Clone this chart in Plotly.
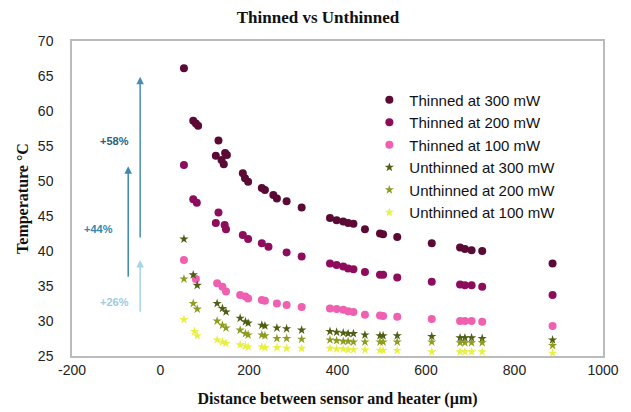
import plotly.graph_objects as go

# ---- data ----
t300_x = [53, 74, 80, 85, 125, 131, 138, 143, 146, 150, 186, 191, 198, 229, 236, 255, 263, 285, 319,
          383, 398, 413, 424, 436, 462, 496, 503, 535, 613, 677, 688, 703, 727, 886]
t300_y = [66.1, 58.6, 58.2, 57.9, 53.6, 55.8, 53.0, 52.4, 54.0, 53.7, 51.1, 50.4, 49.9, 49.0, 48.7, 48.0, 47.5, 47.1, 46.2,
          44.7, 44.4, 44.2, 44.0, 43.9, 43.1, 42.5, 42.4, 42.0, 41.1, 40.5, 40.3, 40.1, 40.0, 38.2]

t200_x = [53, 74, 82, 131, 125, 145, 148, 186, 198, 229, 244, 285, 319,
          383, 398, 413, 424, 436, 462, 496, 503, 535, 613, 677, 688, 703, 727, 886]
t200_y = [52.3, 47.4, 46.9, 45.5, 44.0, 43.7, 43.1, 42.3, 41.7, 41.1, 40.6, 39.8, 39.2,
          38.2, 38.0, 37.8, 37.5, 37.4, 37.0, 36.6, 36.6, 36.2, 35.6, 35.2, 35.1, 35.1, 34.9, 33.7]

t100_x = [53, 80, 128, 140, 148, 180, 192, 198, 229, 236, 263, 285, 319,
          383, 398, 413, 424, 436, 462, 496, 503, 535, 613, 677, 688, 703, 727, 886]
t100_y = [38.7, 36.0, 35.4, 34.9, 34.2, 33.7, 33.5, 33.2, 33.0, 32.9, 32.5, 32.3, 32.0,
          31.8, 31.7, 31.6, 31.4, 31.3, 30.9, 30.8, 30.7, 30.6, 30.3, 30.0, 30.0, 30.0, 29.9, 29.3]

u300_x = [53, 74, 83, 128, 140, 148, 180, 192, 198, 229, 236, 263, 285, 319,
          383, 398, 413, 424, 436, 462, 496, 503, 535, 613, 677, 688, 703, 727, 886]
u300_y = [41.7, 36.6, 35.1, 32.5, 31.8, 31.3, 30.4, 29.9, 29.7, 29.4, 29.3, 29.0, 28.9, 28.7,
          28.5, 28.4, 28.3, 28.2, 28.2, 28.0, 27.9, 27.9, 27.9, 27.8, 27.6, 27.6, 27.6, 27.5, 27.3]

u200_x = [53, 74, 83, 128, 140, 148, 180, 192, 198, 229, 236, 263, 285, 319,
          383, 398, 413, 424, 436, 462, 496, 503, 535, 613, 677, 688, 703, 727, 886]
u200_y = [36.0, 32.5, 31.7, 30.0, 29.4, 29.0, 28.7, 28.2, 28.0, 28.0, 27.9, 27.5, 27.5, 27.4,
          27.3, 27.2, 27.1, 27.1, 27.0, 27.0, 27.0, 27.0, 27.0, 27.0, 26.9, 26.9, 26.9, 26.9, 26.5]

u100_x = [53, 77, 83, 128, 140, 148, 180, 192, 198, 229, 236, 263, 285, 319,
          383, 398, 413, 424, 436, 462, 496, 503, 535, 613, 677, 688, 703, 727, 886]
u100_y = [30.2, 28.5, 27.9, 27.3, 27.0, 26.8, 26.6, 26.4, 26.3, 26.3, 26.2, 26.2, 26.1, 26.1,
          26.1, 26.0, 26.0, 25.9, 25.9, 25.9, 25.8, 25.8, 25.8, 25.6, 25.6, 25.6, 25.6, 25.6, 25.4]

series_names = ["Thinned at 300 mW", "Thinned at 200 mW", "Thinned at 100 mW",
                "Unthinned at 300 mW", "Unthinned at 200 mW", "Unthinned at 100 mW"]
series_colors = ["#5a0a34", "#8e0c5c", "#f060b0", "#4e5e12", "#8e9c20", "#e8f040"]
series_symbols = ["circle", "circle", "circle", "star", "star", "star"]

x_ticks = [-200, 0, 200, 400, 600, 800, 1000]
x_ticktext = ["-200", "0", "200", "400", "600", "800", "1000"]
y_ticks = [25, 30, 35, 40, 45, 50, 55, 60, 65, 70]

# increase arrows: (x, y_from, y_to, label, label_x, label_y, arrow colour, label colour)
arrow_x = [-46, -73, -46]
arrow_from = [41.7, 36.1, 31.1]
arrow_to = [64.9, 52.1, 38.7]
arrow_labels = ["+58%", "+44%", "+26%"]
label_x = [-103, -141, -103]
label_y = [55.7, 43.1, 32.7]
arrow_colors = ["#4a8db0", "#3d8ab0", "#a8d4ea"]
label_colors = ["#2b5f80", "#3a85aa", "#9ccbe4"]

# ---- figure ----
xs = [t300_x, t200_x, t100_x, u300_x, u200_x, u100_x]
ys = [t300_y, t200_y, t100_y, u300_y, u200_y, u100_y]

fig = go.Figure()
for name, x, y, c, s in zip(series_names, xs, ys, series_colors, series_symbols):
    fig.add_trace(go.Scatter(
        x=x, y=y, mode="markers", name=name,
        marker=dict(color=c, symbol=s, size=8 if s == "circle" else 7, line=dict(width=0)),
    ))

for ax_, y0, y1, lab, lx, ly, ac, lc in zip(arrow_x, arrow_from, arrow_to, arrow_labels,
                                            label_x, label_y, arrow_colors, label_colors):
    fig.add_annotation(x=ax_, y=y1, ax=ax_, ay=y0, xref="x", yref="y", axref="x", ayref="y",
                       showarrow=True, arrowhead=2, arrowsize=1, arrowwidth=1.5, arrowcolor=ac, text="")
    fig.add_annotation(x=lx, y=ly, xref="x", yref="y", text="<b>" + lab + "</b>", showarrow=False,
                       font=dict(family="Liberation Sans, Arial", size=11, color=lc))

# the page body has an 8px default margin, so the figure is drawn offset by 8px
fig.update_layout(
    width=631, height=412,
    margin=dict(l=64, r=36, t=33, b=64, autoexpand=False),
    paper_bgcolor="white", plot_bgcolor="white",
    title=dict(text="<b>Thinned vs Unthinned</b>", x=(64 + 246) / 631, xanchor="center",
               y=1 - 9 / 412, yanchor="middle",
               font=dict(family="Liberation Serif, Times New Roman", size=17, color="#111111"),
               automargin=False),
    font=dict(family="Liberation Sans, Arial", size=14, color="#222222"),
    xaxis=dict(range=[-200, 1000], tickvals=x_ticks, ticktext=x_ticktext, showgrid=False, zeroline=False,
               showline=True, linecolor="#bbbbbb", linewidth=1.5, mirror=True, ticks="",
               ticklabelstandoff=0, automargin=False,
               tickfont=dict(size=14, color="#222222"),
               title=dict(text="<b>Distance between sensor and heater (µm)</b>", standoff=16,
                          font=dict(family="Liberation Serif, Times New Roman", size=16, color="#111111"))),
    yaxis=dict(range=[25, 70], tickvals=y_ticks, showgrid=False, zeroline=False,
               showline=True, linecolor="#bbbbbb", linewidth=1.5, mirror=True, ticks="",
               ticklabelstandoff=14, automargin=False,
               tickfont=dict(size=14, color="#222222"),
               title=dict(text="<b>Temperature °C</b>", standoff=5,
                          font=dict(family="Liberation Serif, Times New Roman", size=16, color="#111111"))),
    legend=dict(x=0.56, y=0.865, xanchor="left", yanchor="top", bgcolor="rgba(0,0,0,0)",
                font=dict(family="Liberation Sans, Arial", size=15, color="#111111"),
                tracegroupgap=0),
)

fig.write_html("out.html")
